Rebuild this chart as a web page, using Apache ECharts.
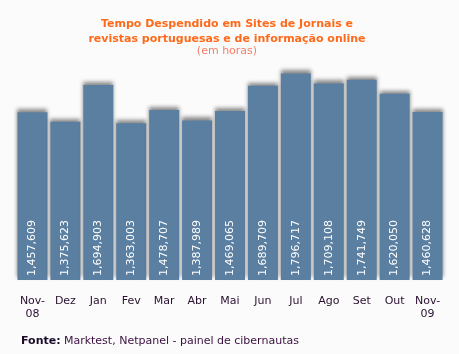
<!DOCTYPE html>
<html><head><meta charset="utf-8">
<script src="https://cdn.jsdelivr.net/npm/echarts@6/dist/echarts.min.js"></script>
<style>html,body{margin:0;padding:0;background:#fbfbfb;}#c{width:459px;height:354px;}</style>
</head><body><div id="c"></div>
<script>
const categories = ['Nov-\n08','Dez','Jan','Fev','Mar','Abr','Mai','Jun','Jul','Ago','Set','Out','Nov-\n09'];
const hours = [1457609,1375623,1694903,1363003,1478707,1387989,1469065,1689709,1796717,1709108,1741749,1620050,1460628];
const titleLines = ['Tempo Despendido em Sites de Jornais e','revistas portuguesas e de informação online'];
const subtitle = '(em horas)';
const fmt = v => String(v).replace(/\B(?=(\d{3})+(?!\d))/g, ',');
const chart = echarts.init(document.getElementById('c'));
chart.setOption({
  backgroundColor: '#fbfbfb',
  animation: false,
  title: [{
    text: titleLines.join('\n'), left: 222, top: 12, textAlign: 'center',
    textStyle: {color: '#ff6a1a', fontSize: 11, fontWeight: 'bold', fontFamily: 'DejaVu Sans', lineHeight: 15}
  },{
    text: subtitle, left: 222, top: 41, textAlign: 'center',
    textStyle: {color: '#f47e6a', fontSize: 11, fontWeight: 'normal', fontFamily: 'DejaVu Sans'}
  }],
  grid: {left: 16, right: 15, top: 50, bottom: 74},
  xAxis: {
    type: 'category', data: categories,
    axisLine: {show: false}, axisTick: {show: false},
    axisLabel: {color: '#2a1030', fontSize: 11, fontFamily: 'DejaVu Sans', margin: 15, lineHeight: 13, interval: 0}
  },
  yAxis: {type: 'value', min: 0, max: 2000000, show: false, splitLine: {show: false}},
  series: [{
    type: 'bar', data: hours, barWidth: 30,
    itemStyle: {color: '#5b7fa1', shadowColor: 'rgba(0,0,0,0.45)', shadowBlur: 4, shadowOffsetY: -3},
    label: {
      show: true, position: 'insideBottom', rotate: 90, align: 'left', verticalAlign: 'middle',
      distance: 4, color: '#ffffff', fontSize: 11, fontFamily: 'DejaVu Sans',
      formatter: p => fmt(p.value)
    }
  }],
  graphic: [{
    type: 'text', left: 21, top: 335,
    style: {
      text: '{b|Fonte:} {n|Marktest, Netpanel - painel de cibernautas}',
      rich: {
        b: {fontWeight: 'bold', fontSize: 11, fontFamily: 'DejaVu Sans', fill: '#1a0a2a', color: '#1a0a2a'},
        n: {fontSize: 11, fontFamily: 'DejaVu Sans', fill: '#3a1040', color: '#3a1040'}
      }
    }
  }]
});
</script></body></html>
